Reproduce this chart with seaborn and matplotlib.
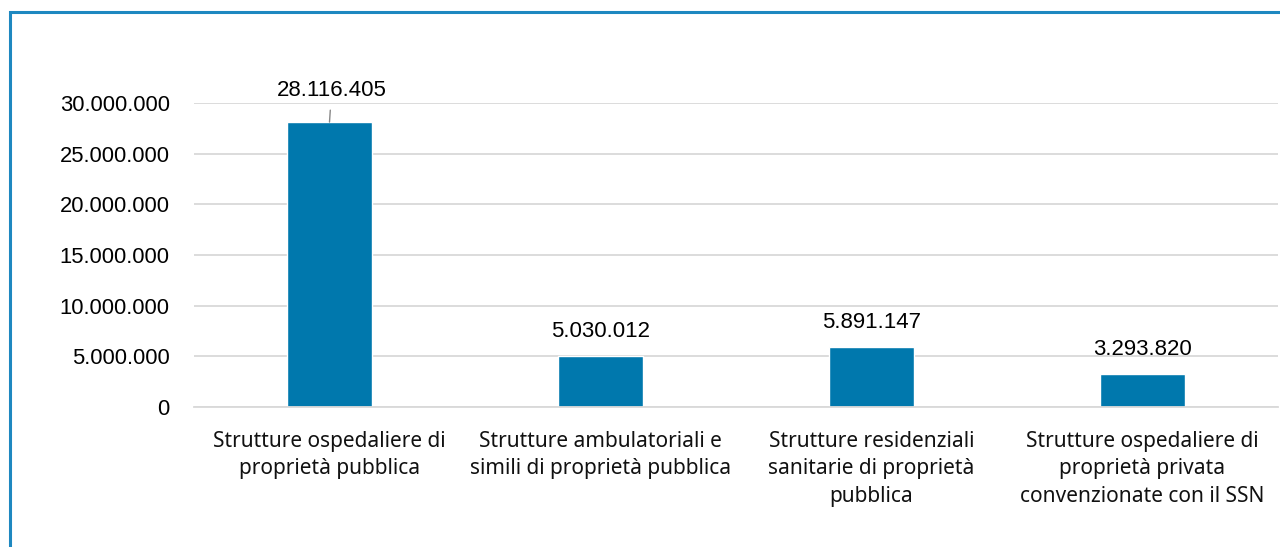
import matplotlib
matplotlib.use("Agg")
import matplotlib.pyplot as plt
import seaborn as sns
import pandas as pd
from matplotlib.patches import Rectangle
from matplotlib.ticker import FuncFormatter

categories = [
    "Strutture ospedaliere di\nproprietà pubblica",
    "Strutture ambulatoriali e\nsimili di proprietà pubblica",
    "Strutture residenziali\nsanitarie di proprietà\npubblica",
    "Strutture ospedaliere di\nproprietà privata\nconvenzionate con il SSN",
]
values = [28116405, 5030012, 5891147, 3293820]
yticks = [0, 5000000, 10000000, 15000000, 20000000, 25000000, 30000000]

sns.set_theme(style="white")
plt.rcParams["font.family"] = ["Liberation Sans", "DejaVu Sans"]

df = pd.DataFrame({"cat": categories, "val": values})

fig = plt.figure(figsize=(12.8, 5.47), dpi=100)
ax = fig.add_axes([194 / 1280, 1 - 407 / 547, (1278 - 194) / 1280, (407 - 103) / 547])

sns.barplot(data=df, x="cat", y="val", color="#0078AD", saturation=1, width=0.314, ax=ax)

ax.set_ylim(0, 30000000)
ax.set_xlim(-0.5, 3.5)
ax.set_yticks(yticks)
ax.yaxis.set_major_formatter(FuncFormatter(lambda v, p: f"{int(v):,}".replace(",", ".")))
ax.grid(axis="y", color="#d9d9d9", linewidth=1.3)
ax.set_axisbelow(True)
for s in ["top", "right", "left"]:
    ax.spines[s].set_visible(False)
ax.spines["bottom"].set_color("#d9d9d9")
ax.spines["bottom"].set_linewidth(1.3)
ax.tick_params(axis="both", length=0)
ax.tick_params(axis="y", labelsize=15.8, labelcolor="#000000", pad=17.5)
ax.set_xlabel("")
ax.set_ylabel("")
ax.set_xticks(range(len(categories)))
ax.set_xticklabels(categories, fontsize=15, family=["Noto Sans", "DejaVu Sans"],
                   linespacing=1.42, color="#111111")
ax.tick_params(axis="x", pad=17)

fmt = lambda v: f"{v:,}".replace(",", ".")
for i, v in enumerate(values):
    if i == 0:
        ax.annotate(fmt(v), xy=(i, v), xytext=(1.5, 22.5), textcoords="offset points",
                    ha="center", va="center", fontsize=16, color="#000000",
                    annotation_clip=False,
                    arrowprops=dict(arrowstyle="-", color="#888888", lw=1,
                                    shrinkA=4, shrinkB=0,
                                    relpos=(0.5, 0.5)))
    else:
        ax.annotate(fmt(v), xy=(i, v), xytext=(0, 17.5), textcoords="offset points",
                    ha="center", va="center", fontsize=16, color="#000000",
                    annotation_clip=False)

fig.patches.append(Rectangle((10 / 1280, -0.05), 1.2, 1 - (12 / 547) + 0.05,
                             transform=fig.transFigure, fill=False,
                             edgecolor="#1E88C0", linewidth=2.2, figure=fig))

fig.savefig("out.png", dpi=100, facecolor="white")
